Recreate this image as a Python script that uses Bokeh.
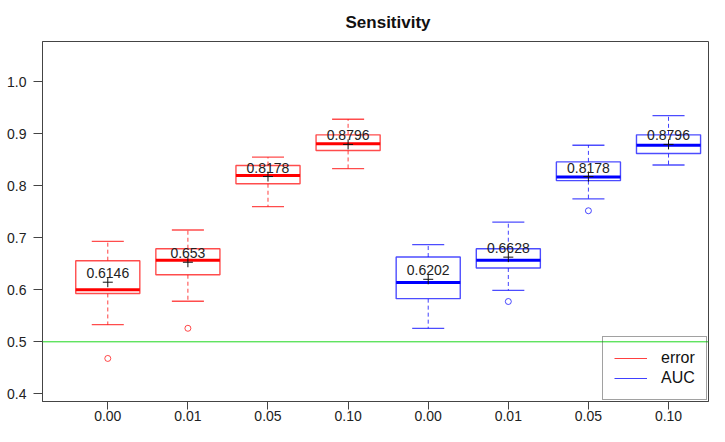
import numpy as np
from bokeh.plotting import figure
from bokeh.models import FixedTicker, Span, Range1d, ColumnDataSource
from bokeh.core.properties import value
from bokeh.embed import file_html
from bokeh.resources import INLINE

# ---- data ----
categories = ["0.00", "0.01", "0.05", "0.10", "0.00", "0.01", "0.05", "0.10"]
series = ["error", "error", "error", "error", "AUC", "AUC", "AUC", "AUC"]
lower_whisker = [0.533, 0.578, 0.760, 0.833, 0.526, 0.599, 0.775, 0.840]
q1 = [0.593, 0.629, 0.804, 0.868, 0.583, 0.642, 0.810, 0.862]
median = [0.600, 0.657, 0.820, 0.881, 0.614, 0.657, 0.817, 0.878]
q3 = [0.656, 0.679, 0.839, 0.898, 0.663, 0.679, 0.846, 0.898]
upper_whisker = [0.693, 0.715, 0.855, 0.928, 0.687, 0.730, 0.878, 0.935]
means = [0.6146, 0.653, 0.8178, 0.8796, 0.6202, 0.6628, 0.8178, 0.8796]
mean_labels = ["0.6146", "0.653", "0.8178", "0.8796", "0.6202", "0.6628", "0.8178", "0.8796"]
outlier_group = [1, 2, 6, 7]
outlier_values = [0.468, 0.526, 0.5775, 0.752]
reference_line = 0.5
y_ticks = [0.4, 0.5, 0.6, 0.7, 0.8, 0.9, 1.0]
legend_series = ["error", "AUC"]

series_colors = {"error": "#ff0000", "AUC": "#0000ff"}

# ---- derived ----
pos = np.arange(1, len(categories) + 1)
colors = [series_colors[s] for s in series]
BOXW = 0.8
CAPW = 0.4

src = ColumnDataSource(dict(
    x=pos, xl=pos - BOXW / 2, xr=pos + BOXW / 2, cl=pos - CAPW / 2, cr=pos + CAPW / 2,
    lw=lower_whisker, q1=q1, med=median, q3=q3, uw=upper_whisker,
    mean=means, lab=mean_labels, color=colors,
))
osrc = ColumnDataSource(dict(
    x=outlier_group, y=outlier_values,
    color=[colors[g - 1] for g in outlier_group],
))

FONT = "Liberation Sans"

p = figure(width=709, height=426, output_backend="svg", toolbar_location=None,
           x_range=Range1d(0.185, 8.499), y_range=Range1d(0.3852, 1.0775),
           min_border_left=42, min_border_right=1, min_border_bottom=25, min_border_top=41)

p.title.text = "Sensitivity"
p.title.align = "left"
p.title.offset = 303
p.title.text_font = FONT
p.title.text_font_size = "17px"
p.title.text_font_style = "bold"
p.title.text_color = "#111111"
p.title.standoff = 20

p.xgrid.visible = False
p.ygrid.visible = False
p.outline_line_color = "#444444"
p.outline_line_width = 1
p.background_fill_color = "white"

# reference line
p.add_layout(Span(location=reference_line, dimension="width", line_color="#1ed81e", line_width=1))

# whiskers (dashed)
p.segment(x0="x", y0="q3", x1="x", y1="uw", source=src, line_color="color", line_alpha=0.75,
          line_width=1, line_dash="4 3")
p.segment(x0="x", y0="q1", x1="x", y1="lw", source=src, line_color="color", line_alpha=0.75,
          line_width=1, line_dash="4 3")
# caps
p.segment(x0="cl", y0="uw", x1="cr", y1="uw", source=src, line_color="color", line_alpha=0.7, line_width=1.3)
p.segment(x0="cl", y0="lw", x1="cr", y1="lw", source=src, line_color="color", line_alpha=0.7, line_width=1.3)
# boxes
p.quad(left="xl", right="xr", bottom="q1", top="q3", source=src, fill_color="white",
       line_color="color", line_alpha=0.7, line_width=1.4)
# medians
p.segment(x0="xl", y0="med", x1="xr", y1="med", source=src, line_color="color", line_width=3)
# outliers
p.scatter(x="x", y="y", source=osrc, marker="circle", size=6, fill_color=None,
          line_color="color", line_alpha=0.7, line_width=1)
# means
p.scatter(x="x", y="mean", source=src, marker="cross", size=10, line_color="#111111", line_width=1)
p.text(x="x", y="mean", text="lab", source=src, text_font=value(FONT), text_font_size="14px",
       text_color="#222222", text_align="center", text_baseline="middle", y_offset=-9)

# legend entries (no visible data, only legend swatches)
for s in legend_series:
    p.line(x=[np.nan, np.nan], y=[np.nan, np.nan], line_color=series_colors[s], line_alpha=0.75,
           line_width=1, legend_label=s)
lg = p.legend[0]
lg.location = (560, 1)
lg.border_line_color = "#444444"
lg.border_line_width = 1
lg.background_fill_alpha = 0
lg.padding = 11
lg.spacing = 0
lg.margin = 0
lg.glyph_width = 33
lg.glyph_height = 20
lg.label_height = 20
lg.label_standoff = 14
lg.label_text_font = FONT
lg.label_text_font_size = "16px"
lg.label_text_color = "#111111"

# axes
xa = p.xaxis[0]
xa.ticker = FixedTicker(ticks=list(pos))
xa.major_label_overrides = {int(i): c for i, c in zip(pos, categories)}
ya = p.yaxis[0]
ya.ticker = FixedTicker(ticks=y_ticks)
ya.major_label_overrides = {t: f"{t:.1f}" for t in y_ticks}
for ax in (xa, ya):
    ax.axis_line_color = "#444444"
    ax.major_tick_line_color = "#444444"
    ax.major_tick_in = 0
    ax.minor_tick_out = 0
    ax.minor_tick_in = 0
    ax.major_label_text_font = FONT
    ax.major_label_text_font_size = "14px"
    ax.major_label_text_color = "#222222"
xa.major_tick_out = 8
ya.major_tick_out = 9
xa.major_label_standoff = 1
ya.major_label_standoff = 7

open("out.html", "w").write(file_html(p, INLINE))
